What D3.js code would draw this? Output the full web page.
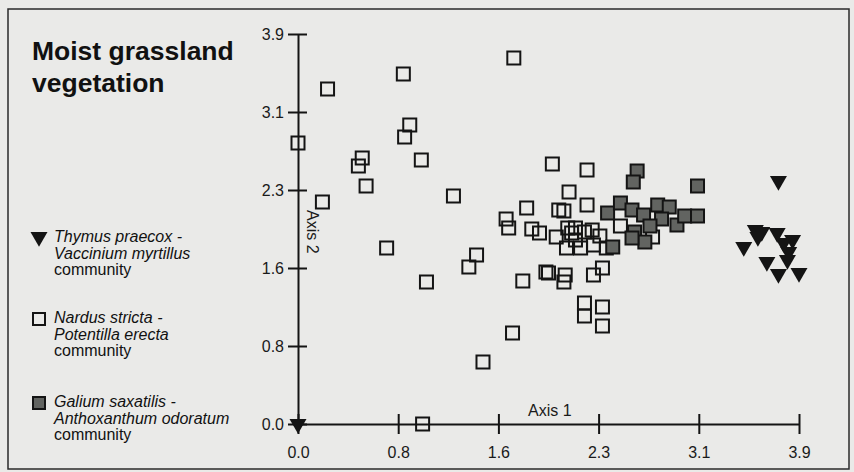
<!DOCTYPE html>
<html><head><meta charset="utf-8">
<script src="https://cdn.jsdelivr.net/npm/d3@7"></script>
<style>
html,body{margin:0;padding:0;background:#eaeae8;}
svg{display:block;font-family:"Liberation Sans",Arial,sans-serif;}
</style></head>
<body>
<svg id="c" width="854" height="472"></svg>
<script>
// ---- data ----
const xTickLabels = ["0.0","0.8","1.6","2.3","3.1","3.9"];
const yTickLabels = ["0.0","0.8","1.6","2.3","3.1","3.9"];
const tickStep = 0.78;

// Thymus praecox - Vaccinium myrtillus community (triangles)
const thymusX = [0.00, 3.74, 3.56, 3.61, 3.73, 3.85, 3.78, 3.47, 3.82, 3.65, 3.81, 3.74, 3.90, 3.58];
const thymusY = [0.00, 2.43, 1.94, 1.92, 1.91, 1.84, 1.81, 1.77, 1.72, 1.62, 1.64, 1.50, 1.51, 1.87];

// Nardus stricta - Potentilla erecta community (open squares)
const nardusX = [0.00,0.19,0.23,0.47,0.50,0.53,0.69,0.82,0.83,0.87,0.96,1.00,0.97,1.21,1.33,1.39,1.44,1.67,1.68,1.75,
                 1.62,1.64,1.78,1.82,1.88,1.93,1.95,1.98,2.01,2.03,2.07,2.08,2.07,2.11,2.25,2.25,2.09,2.20,2.30,2.37,
                 2.23,2.23,2.37,2.37,2.10,2.16,2.23,2.29,2.16,2.30,2.40,2.51,2.76,2.35,2.13];
const nardusY = [2.81,2.22,3.35,2.58,2.66,2.38,1.76,3.50,2.87,2.99,2.64,1.42,0.00,2.28,1.57,1.69,0.62,0.91,3.66,1.43,
                 2.05,1.96,2.16,1.95,1.91,1.52,1.51,2.60,1.87,2.14,2.13,1.49,1.42,2.32,2.54,2.19,1.76,1.76,1.49,1.56,
                 1.21,1.08,1.17,0.98,1.96,1.96,1.92,1.94,1.84,1.79,1.76,1.98,1.87,1.88,1.91];

// Galium saxatilis - Anthoxanthum odoratum community (grey squares)
const galiumX = [2.64,2.61,3.11,2.41,2.51,2.60,2.69,2.80,2.89,2.83,2.95,3.01,3.11,2.62,2.70,2.60,2.45,2.74];
const galiumY = [2.53,2.42,2.38,2.11,2.21,2.14,2.09,2.19,2.17,2.05,1.99,2.08,2.08,1.92,1.82,1.86,1.77,1.98];

const legendEntries = [
  {symbol:"triangle", lines:["Thymus praecox -","Vaccinium myrtillus","community"]},
  {symbol:"open", lines:["Nardus stricta -","Potentilla erecta","community"]},
  {symbol:"grey", lines:["Galium saxatilis -","Anthoxanthum odoratum","community"]}
];

// ---- drawing ----
const svg = d3.select("#c");
const ink = "#141414";
const grey = "#626461";

svg.append("rect").attr("x",8).attr("y",9).attr("width",841).attr("height",460)
  .attr("fill","none").attr("stroke","#2a2a2a").attr("stroke-width",1.5);

const x = d3.scaleLinear().domain([0,3.9]).range([298,799]);
const y = d3.scaleLinear().domain([0,3.9]).range([424,34]);
const tickVals = d3.range(6).map(i=>i*tickStep);

// axes
const xAxis = d3.axisBottom(x).tickValues(tickVals).tickFormat((d,i)=>xTickLabels[i])
  .tickSizeInner(10).tickSizeOuter(0).tickPadding(13);
const gx = svg.append("g").attr("transform",`translate(0,${y(0)})`).call(xAxis);
const yAxis = d3.axisLeft(y).tickValues(tickVals).tickFormat((d,i)=>yTickLabels[i])
  .tickSizeInner(10).tickSizeOuter(0).tickPadding(4);
const gy = svg.append("g").attr("transform",`translate(${x(0)},0)`).call(yAxis);

[gx,gy].forEach(g=>{
  g.select(".domain").attr("stroke",ink).attr("stroke-width",2);
  g.selectAll(".tick line").attr("stroke",ink).attr("stroke-width",2);
  g.selectAll(".tick text").attr("fill","#1a1a1a").style("font-size","16px")
   .style("font-family","'Liberation Sans',Arial,sans-serif");
});
// ticks cross the axis
gx.selectAll(".tick line").attr("y1",-10).attr("y2",10);
gy.selectAll(".tick line").attr("x1",-10).attr("x2",9);

svg.append("text").attr("x",x(1.96)).attr("y",y(0)-8).attr("text-anchor","middle")
  .style("font-size","16px").attr("fill","#1a1a1a").text("Axis 1");
svg.append("text").attr("transform",`translate(${x(0)+9},${y(2.14)}) rotate(90)`)
  .style("font-size","16px").attr("fill","#1a1a1a").text("Axis 2");

// marks
const plot = svg.append("g");
const sq = 13;
plot.selectAll("rect.nardus").data(nardusX.map((v,i)=>[v,nardusY[i]])).join("rect")
  .attr("class","nardus")
  .attr("x",d=>x(d[0])-sq/2).attr("y",d=>y(d[1])-sq/2).attr("width",sq).attr("height",sq)
  .attr("fill","none").attr("stroke",ink).attr("stroke-width",2);
plot.selectAll("rect.galium").data(galiumX.map((v,i)=>[v,galiumY[i]])).join("rect")
  .attr("class","galium")
  .attr("x",d=>x(d[0])-sq/2).attr("y",d=>y(d[1])-sq/2).attr("width",sq).attr("height",sq)
  .attr("fill",grey).attr("stroke",ink).attr("stroke-width",2);
const tri = d3.symbol().type(d3.symbolTriangle).size(125);
plot.selectAll("path.thymus").data(thymusX.map((v,i)=>[v,thymusY[i]])).join("path")
  .attr("class","thymus").attr("d",tri)
  .attr("transform",d=>`translate(${x(d[0])},${y(d[1])}) rotate(180)`)
  .attr("fill",ink);

// title
const title = svg.append("text").attr("x",32).attr("y",60)
  .style("font-size","26.5px").style("font-weight","bold").attr("fill","#111");
title.append("tspan").attr("x",32).text("Moist grassland");
title.append("tspan").attr("x",32).attr("dy",32).text("vegetation");

// legend
const legTop = [242,323,407];
legendEntries.forEach((e,i)=>{
  const g = svg.append("g");
  const by = legTop[i];
  if(e.symbol==="triangle"){
    g.append("path").attr("d",d3.symbol().type(d3.symbolTriangle).size(125))
      .attr("transform",`translate(39,${by-5}) rotate(180)`).attr("fill",ink);
  } else {
    g.append("rect").attr("x",33).attr("y",by-10).attr("width",12).attr("height",12)
      .attr("fill",e.symbol==="grey"?grey:"none").attr("stroke",ink).attr("stroke-width",2);
  }
  const t = g.append("text").attr("x",54).attr("y",by).style("font-size","16px").attr("fill","#111");
  e.lines.forEach((ln,j)=>{
    t.append("tspan").attr("x",54).attr("dy",j===0?0:16.7)
      .style("font-style", j<2 ? "italic" : "normal").text(ln);
  });
});
</script>
</body></html>
